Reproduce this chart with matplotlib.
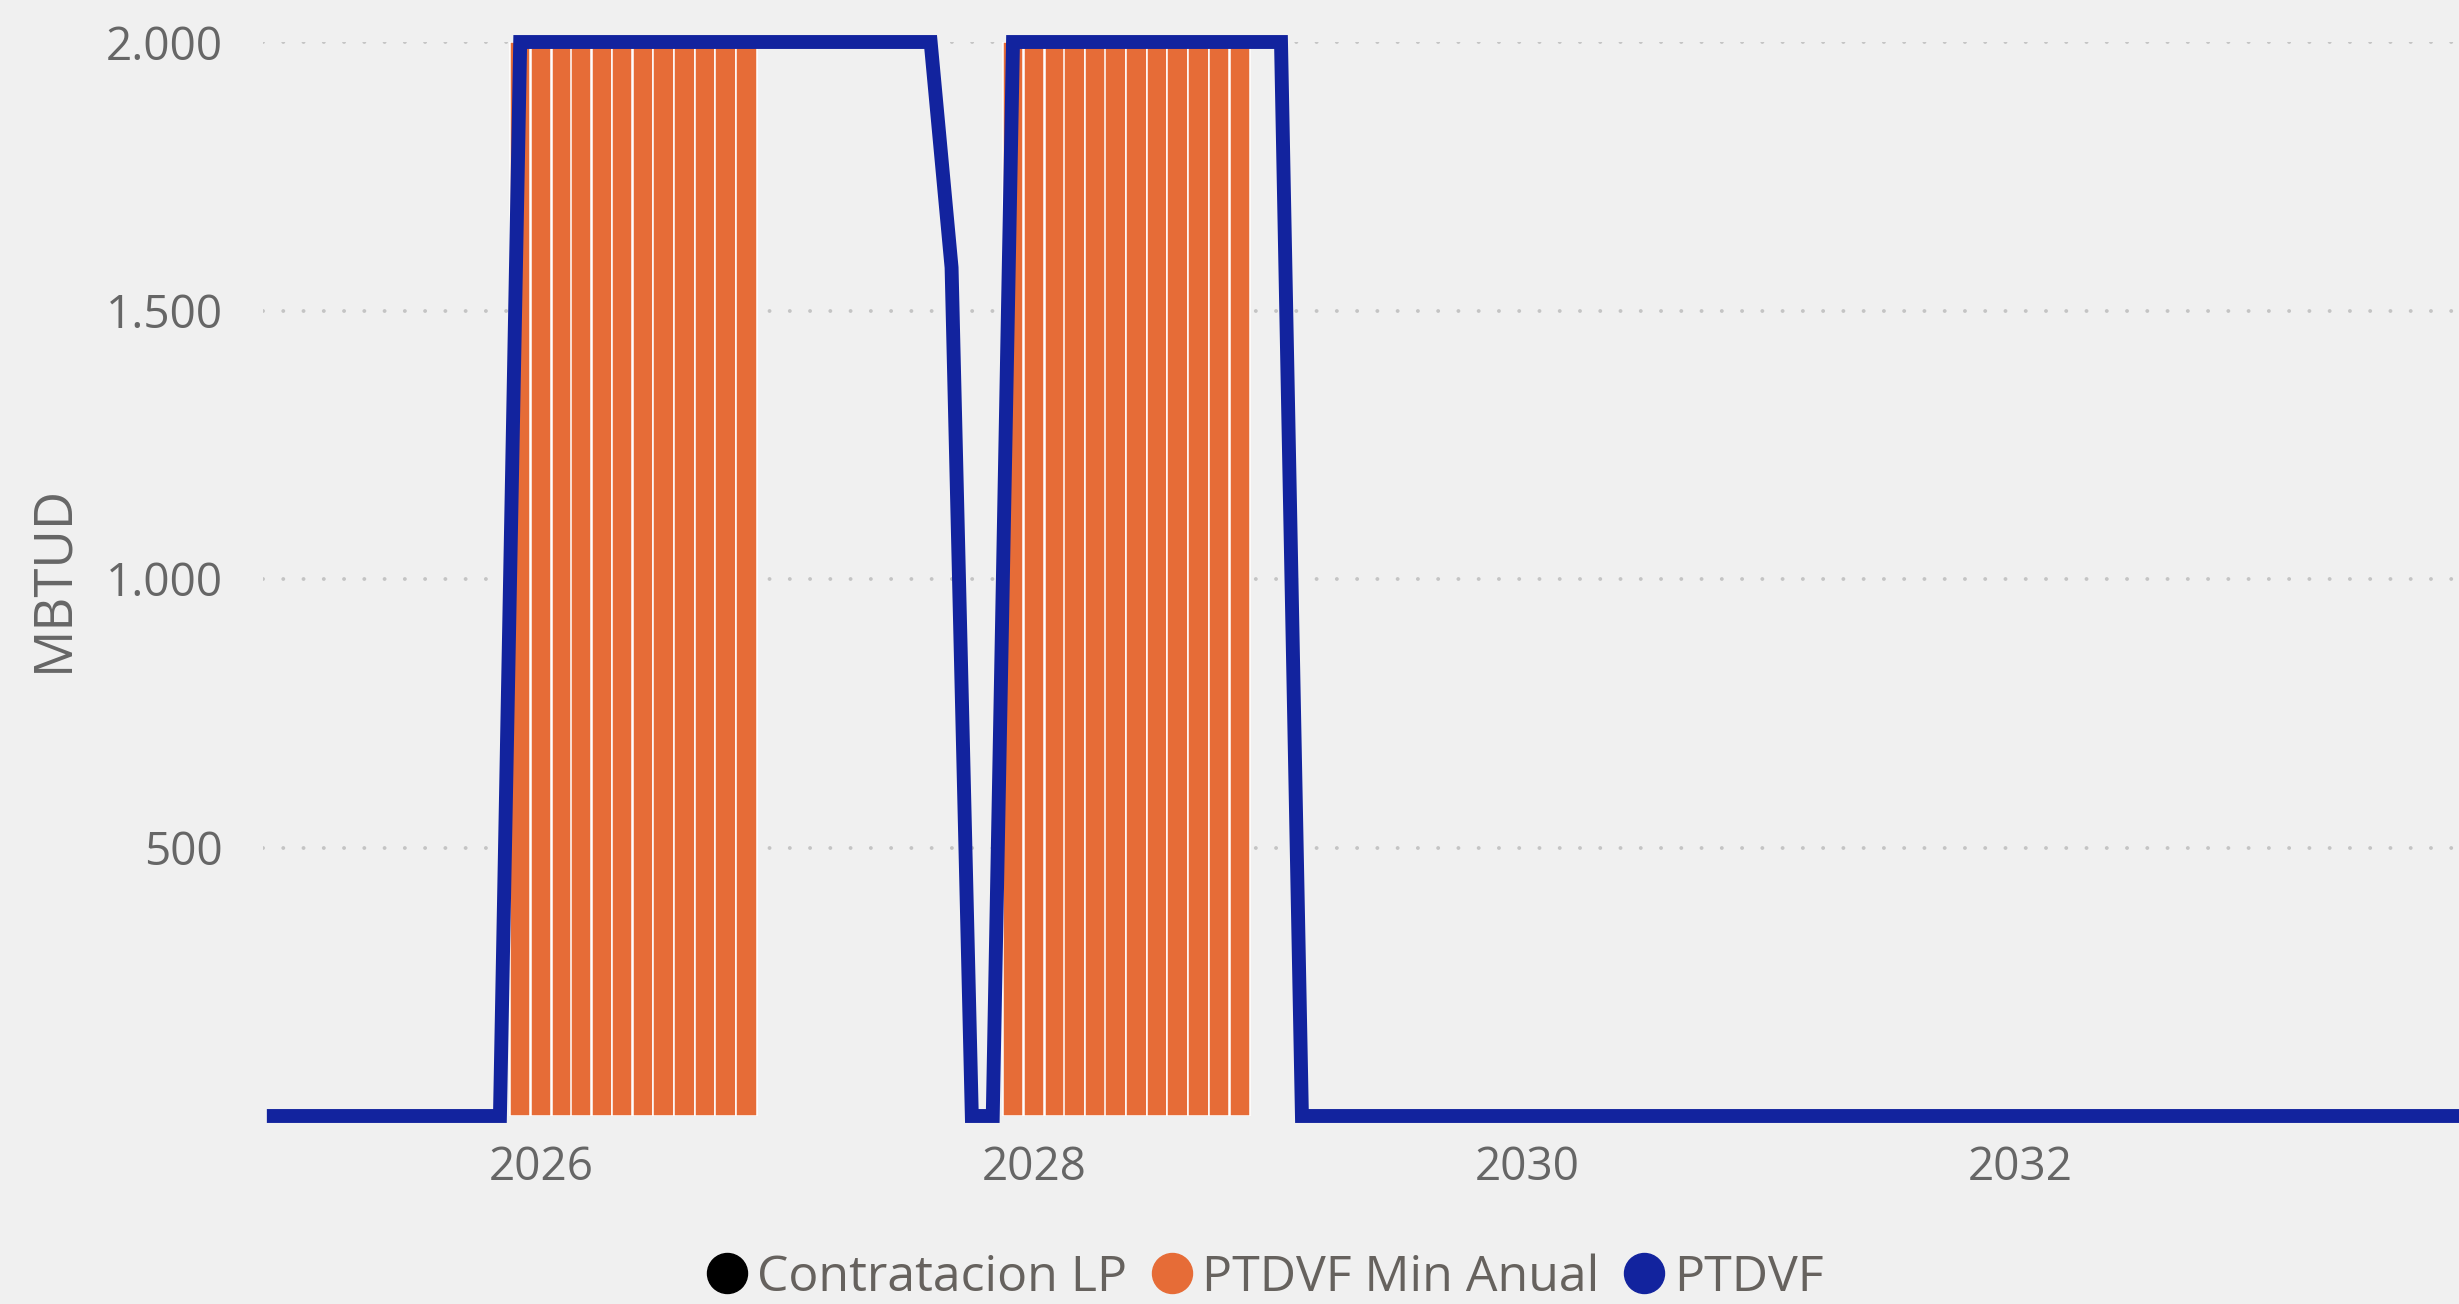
import matplotlib
matplotlib.use("Agg")
import matplotlib.pyplot as plt
from matplotlib.lines import Line2D
import pandas as pd
import numpy as np

plt.rcParams['font.family'] = ['Open Sans', 'DejaVu Sans']

# ---------------- data ----------------
months = pd.date_range("2024-12-01", "2033-12-01", freq="MS")
ptdvf = ([0] * 12 +            # Dec 2024 - Nov 2025
         [2000] * 21 +         # Dec 2025 - Aug 2027
         [1580] +              # Sep 2027
         [0] * 2 +             # Oct - Nov 2027
         [2000] * 14 +         # Dec 2027 - Jan 2029
         [0] * 59)             # Feb 2029 - Dec 2033
min_anual_dates = list(pd.date_range("2025-12-01", "2026-11-01", freq="MS")) + \
                  list(pd.date_range("2027-12-01", "2028-11-01", freq="MS"))
min_anual = [2000] * 24
contratacion_lp = [np.nan] * len(months)   # no visible values

y_ticks = [500, 1000, 1500, 2000]
y_ticklabels = ["500", "1.000", "1.500", "2.000"]
x_ticks = ["2026-01-01", "2028-01-01", "2030-01-01", "2032-01-01"]
x_ticklabels = ["2026", "2028", "2030", "2032"]
legend_labels = ["Contratacion LP", "PTDVF Min Anual", "PTDVF"]

# ---------------- style ----------------
BG = "#F0F0F0"
ORANGE = "#E66C37"
BLUE = "#12239E"
TXT = "#666666"
LEG = "#66625E"

W, H = 2459, 1304
fig = plt.figure(figsize=(W / 100, H / 100), dpi=100, facecolor=BG)
ax = fig.add_axes([263 / W, (H - 1116) / H, (W - 263) / W, (1116 - 42) / H])
ax.set_facecolor(BG)

ax.bar(min_anual_dates, min_anual, width=30.4, color=ORANGE,
       edgecolor="white", linewidth=1.1, zorder=2)
ax.plot(months, contratacion_lp, color="black", lw=3, zorder=2.5)
ax.plot(months, ptdvf, color=BLUE, lw=10, solid_joinstyle="miter",
        solid_capstyle="projecting", zorder=3, clip_on=False)

ax.set_xlim(pd.Timestamp("2024-11-15"), pd.Timestamp("2033-10-12"))
ax.set_ylim(0, 2000)

ax.set_yticks(y_ticks)
ax.set_yticklabels(y_ticklabels)
ax.set_xticks([pd.Timestamp(t) for t in x_ticks])
ax.set_xticklabels(x_ticklabels)

ax.tick_params(axis="y", length=0, pad=29, labelsize=33, labelcolor=TXT)
ax.tick_params(axis="x", length=0, pad=21, labelsize=33, labelcolor=TXT)

ax.yaxis.grid(True, color="#C4C4C4", linestyle=(0, (0.01, 5.2)), linewidth=2.8,
              dash_capstyle="round", zorder=0)
ax.xaxis.grid(False)
ax.set_axisbelow(True)
for s in ax.spines.values():
    s.set_visible(False)

fig.text(54 / W, 1 - 578 / H, "MBTUD", rotation=90, ha="center", va="center",
         fontsize=38, color=TXT)

handles = [Line2D([], [], marker="o", ls="none", markersize=28.8, color=c)
           for c in ["black", ORANGE, BLUE]]
ax.legend(handles, legend_labels, loc="center",
          bbox_to_anchor=(1265 / W, 1 - 1278 / H), bbox_transform=fig.transFigure,
          ncol=3, frameon=False, fontsize=36, handlelength=0.8,
          handletextpad=0.2, columnspacing=0.5, labelcolor=LEG,
          borderpad=0, borderaxespad=0)

fig.savefig("out.png", dpi=100, facecolor=BG)
